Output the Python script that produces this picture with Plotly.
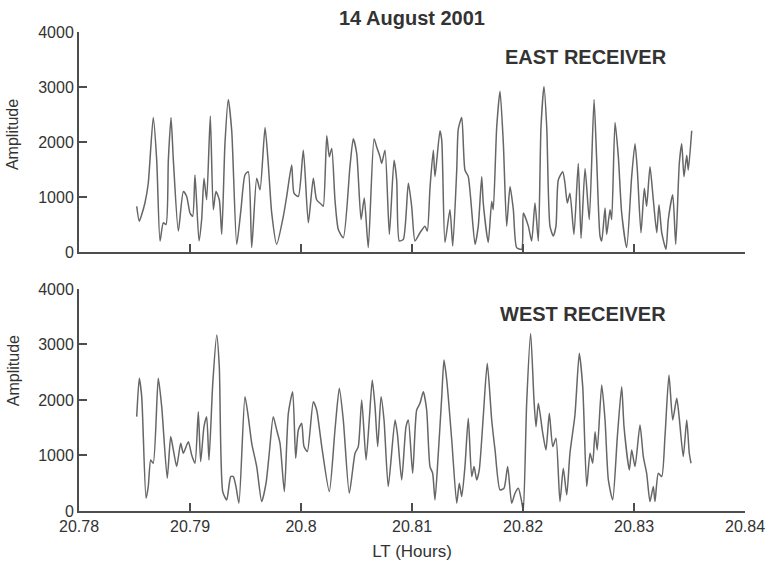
import plotly.graph_objects as go
from plotly.subplots import make_subplots

# ---- data (LT in hours, amplitude) ----
east_t = [20.78520, 20.78543, 20.78565, 20.78595, 20.78624, 20.78669, 20.78700, 20.78730, 20.78759, 20.78784,
          20.78805, 20.78829, 20.78850, 20.78895, 20.78940, 20.78970, 20.79000, 20.79024, 20.79045, 20.79081,
          20.79105, 20.79126, 20.79150, 20.79183, 20.79210, 20.79234, 20.79264, 20.79286, 20.79315, 20.79345,
          20.79376, 20.79421, 20.79459, 20.79495, 20.79525, 20.79556, 20.79601, 20.79631, 20.79676, 20.79705,
          20.79736, 20.79781, 20.79841, 20.79871, 20.79916, 20.79937, 20.79976, 20.80021, 20.80066, 20.80111,
          20.80141, 20.80187, 20.80201, 20.80232, 20.80255, 20.80277, 20.80306, 20.80336, 20.80381, 20.80441,
          20.80471, 20.80502, 20.80541, 20.80570, 20.80606, 20.80658, 20.80682, 20.80712, 20.80727, 20.80757,
          20.80796, 20.80838, 20.80862, 20.80886, 20.80922, 20.80967, 20.80997, 20.81027, 20.81072, 20.81117,
          20.81138, 20.81162, 20.81192, 20.81207, 20.81252, 20.81268, 20.81297, 20.81342, 20.81367, 20.81403,
          20.81417, 20.81448, 20.81477, 20.81507, 20.81568, 20.81597, 20.81628, 20.81642, 20.81687, 20.81718,
          20.81732, 20.81763, 20.81793, 20.81823, 20.81853, 20.81883, 20.81913, 20.81943, 20.81988, 20.82003,
          20.82048, 20.82078, 20.82108, 20.82138, 20.82162, 20.82189, 20.82214, 20.82243, 20.82273, 20.82297,
          20.82318, 20.82358, 20.82378, 20.82399, 20.82423, 20.82459, 20.82498, 20.82523, 20.82559, 20.82597,
          20.82640, 20.82664, 20.82694, 20.82709, 20.82739, 20.82754, 20.82784, 20.82799, 20.82829, 20.82859,
          20.82889, 20.82934, 20.82979, 20.83009, 20.83030, 20.83063, 20.83093, 20.83114, 20.83144, 20.83174,
          20.83205, 20.83225, 20.83250, 20.83288, 20.83309, 20.83349, 20.83376, 20.83408, 20.83430, 20.83450,
          20.83475, 20.83489, 20.83520]
east_amp = [830, 560, 680, 900, 1250, 2445, 1670, 200, 530, 500,
            1670, 2445, 1670, 380, 1100, 1010, 710, 650, 1400, 200,
            590, 1340, 950, 2475, 770, 1100, 950, 320, 1970, 2775,
            2200, 140, 770, 1400, 1460, 80, 1340, 1130, 2265, 1610,
            710, 140, 650, 1010, 1580, 1070, 1010, 1850, 530, 1340,
            950, 860, 830, 2115, 1730, 1880, 950, 410, 260, 1550,
            2060, 1790, 590, 980, 80, 2060, 1910, 1730, 1610, 1850,
            320, 1670, 1310, 200, 230, 1250, 830, 200, 350, 470,
            380, 1160, 1850, 1370, 2205, 2030, 175, 770, 110, 1490,
            2235, 2445, 1490, 1370, 140, 470, 1370, 890, 175, 920,
            770, 2265, 2925, 1970, 470, 1190, 770, 80, 50, 710,
            470, 200, 890, 200, 2265, 3010, 2265, 470, 290, 470,
            1310, 1460, 1250, 890, 1070, 320, 1610, 250, 1520, 590,
            2775, 1670, 290, 200, 800, 320, 770, 590, 2355, 1730,
            710, 80, 1370, 1970, 1490, 350, 1160, 830, 1550, 950,
            350, 860, 350, 50, 590, 1040, 140, 1610, 1970, 1370,
            1760, 1490, 2205]

west_t = [20.78520, 20.78543, 20.78565, 20.78604, 20.78624, 20.78646, 20.78669, 20.78714, 20.78745, 20.78795,
          20.78826, 20.78850, 20.78880, 20.78916, 20.78940, 20.78985, 20.79015, 20.79045, 20.79075, 20.79096,
          20.79126, 20.79150, 20.79171, 20.79205, 20.79241, 20.79264, 20.79295, 20.79331, 20.79367, 20.79390,
          20.79414, 20.79441, 20.79495, 20.79525, 20.79556, 20.79601, 20.79646, 20.79685, 20.79714, 20.79750,
          20.79781, 20.79811, 20.79850, 20.79886, 20.79925, 20.79952, 20.79976, 20.80006, 20.80027, 20.80057,
          20.80111, 20.80141, 20.80187, 20.80255, 20.80306, 20.80345, 20.80381, 20.80435, 20.80487, 20.80516,
          20.80547, 20.80586, 20.80615, 20.80642, 20.80667, 20.80691, 20.80721, 20.80748, 20.80786, 20.80847,
          20.80868, 20.80907, 20.80946, 20.80967, 20.81006, 20.81042, 20.81072, 20.81102, 20.81132, 20.81162,
          20.81186, 20.81207, 20.81237, 20.81268, 20.81288, 20.81313, 20.81358, 20.81403, 20.81426, 20.81448,
          20.81477, 20.81507, 20.81538, 20.81559, 20.81583, 20.81606, 20.81642, 20.81678, 20.81718, 20.81748,
          20.81793, 20.81829, 20.81862, 20.81898, 20.81928, 20.81958, 20.81988, 20.82003, 20.82033, 20.82069,
          20.82099, 20.82117, 20.82138, 20.82178, 20.82207, 20.82237, 20.82268, 20.82297, 20.82333, 20.82363,
          20.82394, 20.82423, 20.82468, 20.82507, 20.82538, 20.82574, 20.82604, 20.82628, 20.82649, 20.82669,
          20.82709, 20.82739, 20.82769, 20.82808, 20.82850, 20.82889, 20.82910, 20.82958, 20.82979, 20.83009,
          20.83054, 20.83084, 20.83114, 20.83144, 20.83174, 20.83189, 20.83219, 20.83250, 20.83279, 20.83315,
          20.83349, 20.83385, 20.83408, 20.83444, 20.83475, 20.83498, 20.83514]
west_amp = [1700, 2390, 2060, 230, 440, 920, 860, 2390, 1880, 590,
            1340, 1100, 800, 1220, 1040, 1250, 1010, 860, 1790, 890,
            1520, 1700, 920, 2300, 3170, 2600, 350, 200, 620, 620,
            440, 140, 2060, 1700, 1220, 800, 170, 500, 1040, 1700,
            1460, 1220, 350, 1760, 2150, 950, 1460, 1580, 1160, 1070,
            1970, 1820, 1160, 350, 1460, 2210, 1640, 320, 1040, 1160,
            2000, 920, 1640, 2360, 1880, 1160, 2060, 1640, 440, 1640,
            1400, 560, 1520, 1640, 680, 1820, 1940, 2150, 1820, 800,
            680, 200, 1040, 2060, 2720, 2360, 1280, 140, 500, 260,
            800, 1670, 620, 800, 560, 740, 1700, 2660, 1640, 1100,
            380, 410, 800, 140, 320, 410, 170, 0, 1940, 3200,
            2000, 1520, 1940, 1400, 1100, 1760, 1160, 1310, 170, 770,
            290, 1040, 1730, 2840, 2240, 440, 1040, 860, 1430, 1100,
            2270, 1640, 560, 200, 1340, 2240, 1520, 740, 1100, 800,
            1550, 980, 680, 170, 440, 170, 680, 620, 1340, 2450,
            1640, 2030, 1670, 980, 1640, 1040, 860]

x_ticks = [20.78, 20.79, 20.80, 20.81, 20.82, 20.83, 20.84]
x_tick_text = ["20.78", "20.79", "20.8", "20.81", "20.82", "20.83", "20.84"]
y_ticks = [0, 1000, 2000, 3000, 4000]

FONT = "Liberation Sans, Arial, sans-serif"
TXT = "#333333"
AX = "#4d4d4d"
LINE = "#666666"

fig = make_subplots(rows=2, cols=1, shared_xaxes=False, vertical_spacing=0.08)
fig.add_trace(go.Scatter(x=east_t, y=east_amp, mode="lines",
                         line=dict(color=LINE, width=1.5, shape="spline", smoothing=0.6),
                         showlegend=False), row=1, col=1)
fig.add_trace(go.Scatter(x=west_t, y=west_amp, mode="lines",
                         line=dict(color=LINE, width=1.5, shape="spline", smoothing=0.6),
                         showlegend=False), row=2, col=1)

xcommon = dict(range=[20.78, 20.84], tickvals=x_ticks, ticktext=x_tick_text,
               ticks="inside", ticklen=8, tickwidth=1.5, tickcolor=AX, automargin=False,
               showline=True, linecolor=AX, linewidth=2, showgrid=False, zeroline=False,
               mirror=False, tickfont=dict(family=FONT, size=16, color=TXT))
ycommon = dict(range=[0, 4000], tickvals=y_ticks, ticks="inside", ticklen=8, tickwidth=1.5,
               tickcolor=AX, showline=True, linecolor=AX, linewidth=2, showgrid=False,
               zeroline=False, mirror=False, automargin=False,
               tickfont=dict(family=FONT, size=16, color=TXT))

fig.update_xaxes(**xcommon)
fig.update_xaxes(showticklabels=False, row=1, col=1)
fig.update_xaxes(title=dict(text="LT (Hours)", font=dict(family=FONT, size=17, color=TXT), standoff=13),
                 row=2, col=1)
fig.update_yaxes(**ycommon)

fig.update_layout(
    width=768, height=561,
    margin=dict(l=79, r=23, t=32, b=50),
    paper_bgcolor="white", plot_bgcolor="white",
    font=dict(family=FONT, color=TXT),
    yaxis=dict(domain=[0.5407, 1.0]),
    yaxis2=dict(domain=[0.0, 0.4635]),
    annotations=[
        dict(text="<b>14 August 2001</b>", x=0.5, y=1.029, xref="paper", yref="paper",
             xanchor="center", yanchor="middle", showarrow=False,
             font=dict(family=FONT, size=20, color=TXT)),
        dict(text="<b>EAST RECEIVER</b>", x=0.762, y=0.948, xref="paper", yref="paper",
             xanchor="center", yanchor="middle", showarrow=False,
             font=dict(family=FONT, size=20, color=TXT)),
        dict(text="<b>WEST RECEIVER</b>", x=0.757, y=0.411, xref="paper", yref="paper",
             xanchor="center", yanchor="middle", showarrow=False,
             font=dict(family=FONT, size=20, color=TXT)),
        dict(text="Amplitude", x=-0.099, y=0.785, xref="paper", yref="paper", textangle=-90,
             xanchor="center", yanchor="middle", showarrow=False,
             font=dict(family=FONT, size=16, color=TXT)),
        dict(text="Amplitude", x=-0.099, y=0.292, xref="paper", yref="paper", textangle=-90,
             xanchor="center", yanchor="middle", showarrow=False,
             font=dict(family=FONT, size=16, color=TXT)),
    ],
)

fig.write_html("out.html")
